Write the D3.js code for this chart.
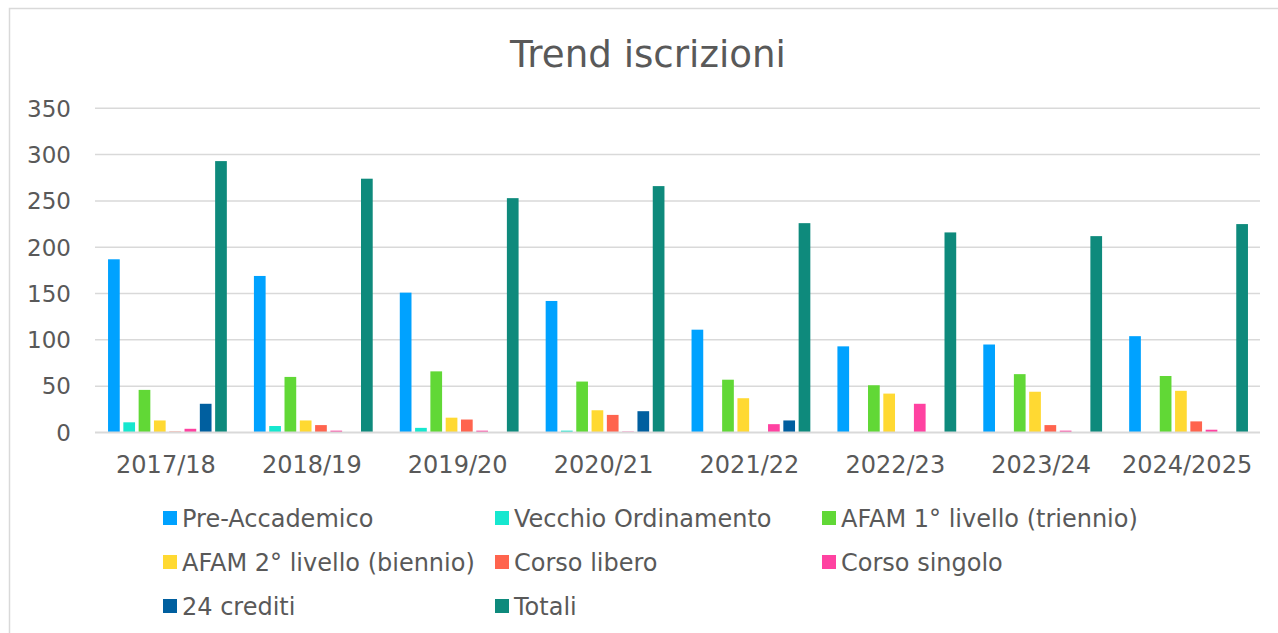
<!DOCTYPE html>
<html>
<head>
<meta charset="utf-8">
<title>Trend iscrizioni</title>
<script src="https://cdn.jsdelivr.net/npm/d3@7"></script>
<style>
    html, body { margin: 0; padding: 0; background: #ffffff; }
    svg { display: block; font-family: "DejaVu Sans", Verdana, sans-serif; }
</style>
</head>
<body>
<svg id="chart" width="1278" height="633"></svg>
<script>
// dati
var anni = ["2017/18", "2018/19", "2019/20", "2020/21", "2021/22", "2022/23", "2023/24", "2024/2025"];
var serie = ["Pre-Accademico", "Vecchio Ordinamento", "AFAM 1° livello (triennio)",
             "AFAM 2° livello (biennio)", "Corso libero", "Corso singolo", "24 crediti", "Totali"];
var colori = ["#00a2ff", "#16e7cf", "#61d836", "#ffd932", "#ff644e", "#ff42a1", "#005f9f", "#0e8a7c"];

var preAccademico      = [187, 169, 151, 142, 111, 93, 95, 104];
var vecchioOrdinamento = [11, 7, 5, 2, 0, 0, 0, 0];
var afamTriennio       = [46, 60, 66, 55, 57, 51, 63, 61];
var afamBiennio        = [13, 13, 16, 24, 37, 42, 44, 45];
var corsoLibero        = [1, 8, 14, 19, 0, 0, 8, 12];
var corsoSingolo       = [4, 2, 2, 1, 9, 31, 2, 3];
var crediti24          = [31, 0, 0, 23, 13, 0, 0, 0];
var totali             = [293, 274, 253, 266, 226, 216, 212, 225];

var valori = [preAccademico, vecchioOrdinamento, afamTriennio, afamBiennio,
              corsoLibero, corsoSingolo, crediti24, totali];
var yTicks = [0, 50, 100, 150, 200, 250, 300, 350];

var testo = "#595959";
var griglia = "#d9d9d9";

var svg = d3.select("#chart");

// bordo dell'area grafico
svg.append("path")
    .attr("d", "M9.5,640 V8.5 H1290")
    .attr("fill", "none")
    .attr("stroke", griglia)
    .attr("stroke-width", 1.5);

// titolo
svg.append("text")
    .attr("x", 648)
    .attr("y", 67)
    .attr("text-anchor", "middle")
    .attr("font-size", 37.2)
    .attr("fill", testo)
    .text("Trend iscrizioni");

var plot = { left: 93, right: 1260, top: 108.3, bottom: 432.5 };

var x0 = d3.scaleBand()
    .domain(anni)
    .range([plot.left, plot.right])
    .paddingInner(0)
    .paddingOuter(0);

// le barre sono leggermente spostate a destra rispetto al centro della categoria
var x1 = d3.scaleBand()
    .domain(d3.range(serie.length))
    .range([1.5, x0.bandwidth() + 1.5])
    .paddingInner(0.235)
    .paddingOuter(0.885);

var y = d3.scaleLinear()
    .domain([0, 350])
    .range([plot.bottom, plot.top]);

// griglia orizzontale
svg.append("g")
    .selectAll("line")
    .data(yTicks.filter(function(d) { return d > 0; }))
    .enter().append("line")
    .attr("x1", plot.left + 2)
    .attr("x2", plot.right)
    .attr("y1", function(d) { return y(d); })
    .attr("y2", function(d) { return y(d); })
    .attr("stroke", griglia)
    .attr("stroke-width", 1.5);

// etichette asse y
svg.append("g")
    .selectAll("text")
    .data(yTicks)
    .enter().append("text")
    .attr("x", 71)
    .attr("y", function(d) { return y(d); })
    .attr("dy", "0.36em")
    .attr("text-anchor", "end")
    .attr("font-size", 23)
    .attr("fill", testo)
    .text(function(d) { return d; });

// barre
var gruppi = svg.append("g")
    .selectAll("g")
    .data(anni)
    .enter().append("g")
    .attr("transform", function(d) { return "translate(" + x0(d) + ",0)"; });

gruppi.selectAll("rect")
    .data(function(d, i) {
        return valori.map(function(s, k) { return { serie: k, valore: s[i] }; });
    })
    .enter().append("rect")
    .filter(function(d) { return d.valore > 0; })
    .attr("x", function(d) { return x1(d.serie); })
    .attr("width", x1.bandwidth())
    .attr("y", function(d) { return y(d.valore); })
    .attr("height", function(d) { return y(0) - y(d.valore); })
    .attr("fill", function(d) { return colori[d.serie]; });

// linea dello zero
svg.append("line")
    .attr("x1", plot.left + 2)
    .attr("x2", plot.right)
    .attr("y1", y(0))
    .attr("y2", y(0))
    .attr("stroke", griglia)
    .attr("stroke-width", 2);

// etichette asse x
svg.append("g")
    .selectAll("text")
    .data(anni)
    .enter().append("text")
    .attr("x", function(d) { return x0(d) + x0.bandwidth() / 2; })
    .attr("y", 473)
    .attr("text-anchor", "middle")
    .attr("font-size", 24)
    .attr("fill", testo)
    .text(function(d) { return d; });

// legenda
var colonne = [163, 495, 822];
var righe = [518, 562, 606];

var legenda = svg.append("g")
    .selectAll("g")
    .data(serie)
    .enter().append("g")
    .attr("transform", function(d, i) {
        return "translate(" + colonne[i % 3] + "," + righe[Math.floor(i / 3)] + ")";
    });

legenda.append("rect")
    .attr("x", 0)
    .attr("y", -7)
    .attr("width", 14)
    .attr("height", 14)
    .attr("fill", function(d, i) { return colori[i]; });

legenda.append("text")
    .attr("x", 19)
    .attr("y", 0)
    .attr("dy", "0.36em")
    .attr("font-size", 24)
    .attr("fill", testo)
    .text(function(d) { return d; });
</script>
</body>
</html>
